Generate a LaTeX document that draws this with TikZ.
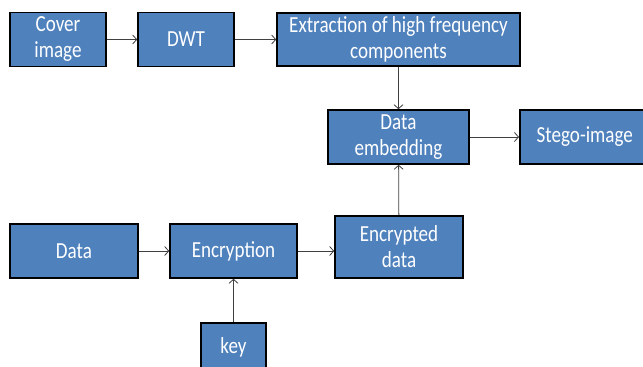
\documentclass[tikz,border=0pt]{standalone}
\usepackage{fontspec}
\setmainfont{Carlito}[FakeStretch=0.83]
\usetikzlibrary{arrows.meta}
\tikzset{
  blk/.style={draw=black, line width=1.6pt, fill=blkfill, text=white, inner sep=0pt,
    align=center, font=\fontsize{23}{26}\selectfont},
  flow/.style={draw=black!75, line width=0.8pt, -{Straight Barb[length=4pt,width=9pt]}}
}
\definecolor{blkfill}{HTML}{4F81BD}
\begin{document}
\begin{tikzpicture}[x=1pt,y=-1pt]
  \useasboundingbox (0,0) rectangle (643,367);
  % top row
  \node[blk, minimum width=96pt, minimum height=54pt] (cover) at (58,39.5) {Cover\\image};
  \node[blk, minimum width=96pt, minimum height=54pt] (dwt) at (186,39.5) {DWT};
  \node[blk, minimum width=243pt, minimum height=53pt] (extr) at (398.5,39.5) {Extraction of high frequency\\components};
  % middle row
  \node[blk, minimum width=141pt, minimum height=54pt] (embed) at (398.5,137) {Data\\embedding};
  \node[blk, minimum width=130pt, minimum height=54pt, anchor=west] (stego) at (519,137) {Stego-image};
  % bottom rows
  \node[blk, minimum width=128pt, minimum height=54pt] (data) at (74,251) {Data};
  \node[blk, minimum width=127pt, minimum height=54pt] (enc) at (233.5,251) {Encryption};
  \node[blk, minimum width=128pt, minimum height=62pt] (encd) at (399,247) {Encrypted\\data};
  \node[blk, minimum width=65pt, minimum height=50pt, anchor=north] (key) at (233.5,322) {key};
  % connectors
  \draw[flow] (cover) -- (dwt);
  \draw[flow] (dwt) -- (extr);
  \draw[flow] (extr) -- (embed);
  \draw[flow] (embed) -- (stego);
  \draw[flow] (data) -- (enc);
  \draw[flow] (enc.east) -- (encd.west |- enc.east);
  \draw[flow] (key) -- (enc);
  \draw[flow] (encd) -- (embed);
\end{tikzpicture}
\end{document}
